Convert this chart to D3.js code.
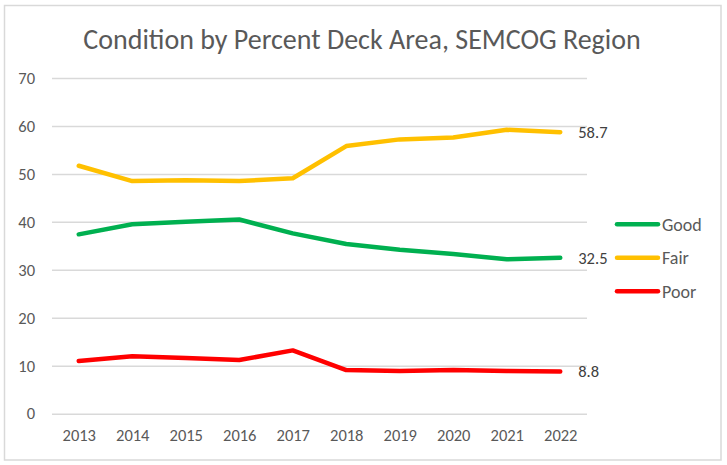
<!DOCTYPE html>
<html>
<head>
<meta charset="utf-8">
<script src="https://cdn.jsdelivr.net/npm/d3@7"></script>
<style>
  body { margin: 0; background: #fff; }
  svg text { font-family: Carlito, Calibri, Lato, sans-serif; }
</style>
</head>
<body>
<div id="chart"></div>
<script>
// data
const years = [2013, 2014, 2015, 2016, 2017, 2018, 2019, 2020, 2021, 2022];
const good = [37.4, 39.5, 40.0, 40.5, 37.6, 35.4, 34.2, 33.3, 32.2, 32.5];
const fair = [51.7, 48.5, 48.7, 48.5, 49.1, 55.8, 57.2, 57.6, 59.2, 58.7];
const poor = [11.0, 12.0, 11.6, 11.2, 13.2, 9.1, 8.9, 9.1, 8.9, 8.8];
const yTicks = [0, 10, 20, 30, 40, 50, 60, 70];
const seriesNames = ["Good", "Fair", "Poor"];
const seriesColors = ["#00B050", "#FFC000", "#FF0000"];

const width = 727;
const height = 465;

const svg = d3.select("#chart")
  .append("svg")
  .attr("width", width)
  .attr("height", height);

// chart border
svg.append("rect")
  .attr("x", 4.5)
  .attr("y", 5.5)
  .attr("width", 716.5)
  .attr("height", 454.5)
  .attr("fill", "none")
  .attr("stroke", "#D9D9D9")
  .attr("stroke-width", 1.5);

// title
svg.append("text")
  .attr("x", 362)
  .attr("y", 49)
  .attr("text-anchor", "middle")
  .attr("fill", "#595959")
  .style("font-size", "28px")
  .text("Condition by Percent Deck Area, SEMCOG Region");

// scales
const xScale = d3.scalePoint()
  .domain(years)
  .range([52, 587])
  .padding(0.5);

const yScale = d3.scaleLinear()
  .domain([0, 70])
  .range([413.7, 78]);

// y axis with gridlines
const yAxis = d3.axisLeft(yScale)
  .tickValues(yTicks)
  .tickSize(-(587 - 52))
  .tickPadding(17);

svg.append("g")
  .attr("transform", "translate(52,0)")
  .call(yAxis)
  .call(g => g.select(".domain").remove())
  .call(g => g.selectAll("line").attr("stroke", "#D9D9D9").attr("stroke-width", 1.5))
  .call(g => g.selectAll("text").attr("fill", "#595959").style("font-size", "16.5px"));

// x axis
const xAxis = d3.axisBottom(xScale)
  .tickSize(0)
  .tickPadding(16);

svg.append("g")
  .attr("transform", "translate(0,413.7)")
  .call(xAxis)
  .call(g => g.select(".domain").remove())
  .call(g => g.selectAll("text").attr("fill", "#595959").style("font-size", "16.5px"));

// lines
const allSeries = [good, fair, poor];
const line = d3.line()
  .x((d, i) => xScale(years[i]))
  .y(d => yScale(d));

svg.selectAll(".series")
  .data(allSeries)
  .enter()
  .append("path")
  .attr("class", "series")
  .attr("d", d => line(d))
  .attr("fill", "none")
  .attr("stroke", (d, i) => seriesColors[i])
  .attr("stroke-width", 4.5)
  .attr("stroke-linecap", "round")
  .attr("stroke-linejoin", "round");

// end labels
svg.selectAll(".end-label")
  .data(allSeries)
  .enter()
  .append("text")
  .attr("class", "end-label")
  .attr("x", xScale(years[years.length - 1]) + 18)
  .attr("y", d => yScale(d[d.length - 1]))
  .attr("dy", "0.35em")
  .attr("fill", "#404040")
  .style("font-size", "16.5px")
  .text(d => d[d.length - 1].toFixed(1));

// legend
const legend = svg.selectAll(".legend-item")
  .data(seriesNames)
  .enter()
  .append("g")
  .attr("class", "legend-item")
  .attr("transform", (d, i) => `translate(617, ${224.3 + i * 33.5})`);

legend.append("line")
  .attr("x1", 0)
  .attr("x2", 41)
  .attr("stroke", (d, i) => seriesColors[i])
  .attr("stroke-width", 4.5)
  .attr("stroke-linecap", "round");

legend.append("text")
  .attr("x", 45)
  .attr("dy", "0.35em")
  .attr("fill", "#595959")
  .style("font-size", "18px")
  .text(d => d);
</script>
</body>
</html>
